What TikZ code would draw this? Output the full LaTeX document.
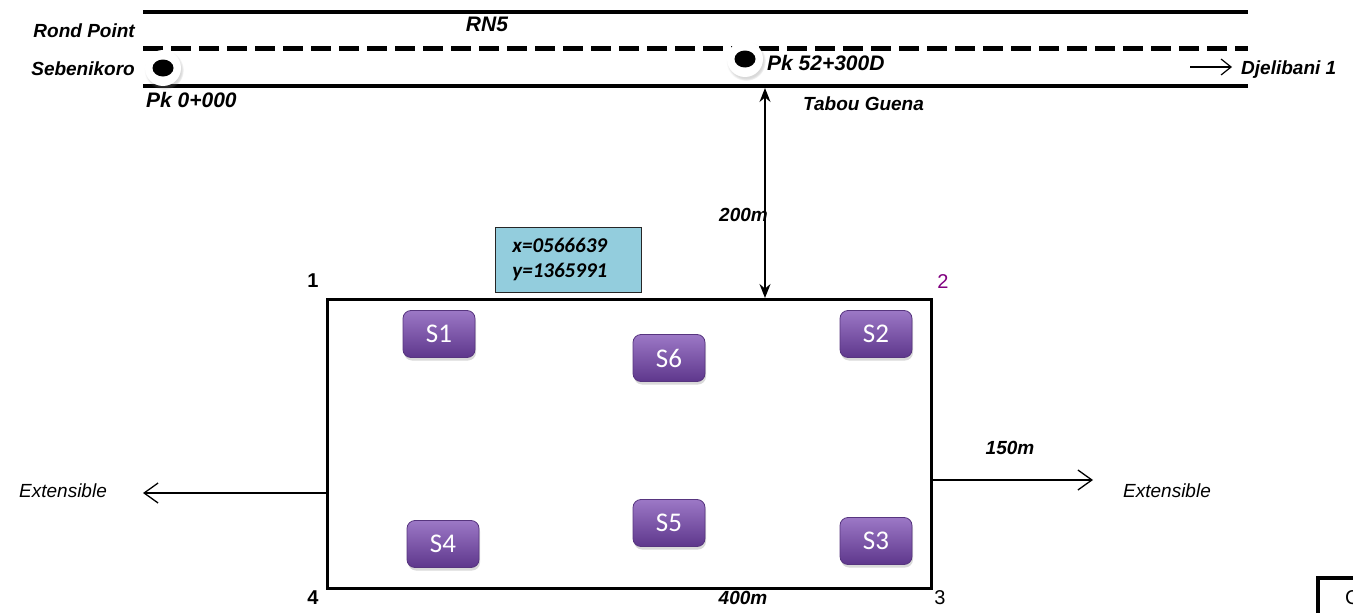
\documentclass[tikz,border=0pt]{standalone}
\usepackage{fontspec}
\setmainfont{Liberation Sans}
\newfontfamily\calibri{Carlito}
\usetikzlibrary{arrows.meta,shadows,shapes.geometric}
\definecolor{sensortop}{HTML}{9C78C6}
\definecolor{sensormid}{HTML}{7D55AC}
\definecolor{sensorbot}{HTML}{5E378C}
\definecolor{sensorline}{HTML}{57357F}
\definecolor{coordblue}{HTML}{93CDDD}
\definecolor{cornerpurple}{HTML}{80007F}
\begin{document}
\begin{tikzpicture}[x=1pt,y=-1pt,
  lbl/.style={font=\fontsize{19}{22}\selectfont\bfseries\itshape, inner sep=0pt},
  pklbl/.style={font=\fontsize{21}{24}\selectfont\bfseries\itshape, inner sep=0pt},
  ext/.style={font=\fontsize{19}{22}\selectfont\itshape, inner sep=0pt},
  corner/.style={font=\fontsize{20}{22}\selectfont, inner sep=0pt},
  road/.style={line width=4pt},
  halo/.style={circle, fill=white, minimum size=36pt, inner sep=0pt,
    circular drop shadow={shadow xshift=1pt, shadow yshift=-2pt, opacity=0.3}},
  dot/.style={ellipse, fill=black, minimum width=21pt, minimum height=17pt, inner sep=0pt},
  sensor/.style={rounded corners=8pt, minimum width=72pt, minimum height=47pt,
    draw=sensorline, line width=0.8pt, top color=sensortop, middle color=sensormid,
    bottom color=sensorbot,
    text=white, font=\calibri\fontsize{27}{30}\selectfont,
    drop shadow={shadow xshift=1pt, shadow yshift=-3pt, opacity=0.3}},
  thinarrow/.style={line width=1.3pt, -{Straight Barb[length=14pt,width=20pt,line width=1.3pt]}},
  dim/.style={line width=1.3pt, {Stealth[length=14pt,width=11pt]}-{Stealth[length=14pt,width=11pt]}}
]
\useasboundingbox (0,0) rectangle (1353,613);

% road RN5
\coordinate (edgeTopL) at (143,12);   \coordinate (edgeTopR) at (1248,12);
\coordinate (axisL)    at (143,48);   \coordinate (axisR)    at (1248,48);
\coordinate (edgeBotL) at (143,86);   \coordinate (edgeBotR) at (1248,86);
\draw[road] (edgeTopL) -- (edgeTopR);
\draw[line width=5pt, dash pattern=on 20pt off 8pt] (axisL) -- (axisR);
\draw[road] (edgeBotL) -- (edgeBotR);

% kilometre stakes
\node[halo] (stakeA) at (163,68) {};
\node[dot] at (stakeA) {};
\node[halo] (stakeB) at (745,59) {};
\node[dot] at (stakeB) {};

% road labels
\node[lbl, anchor=east] (rond) at (135,31) {Rond Point};
\node[lbl, anchor=east] (sebe) at (135,69) {Sebenikoro};
\node[pklbl, anchor=west] (pkA) at (146,100) {Pk 0+000};
\node[pklbl] (rn) at (487,24) {RN5};
\node[pklbl, anchor=west] (pkB) at (767,63) {Pk 52+300D};
\node[lbl, anchor=west] (tabou) at (803,104) {Tabou Guena};
\node[lbl, anchor=west] (djel) at (1241,70) {Djelibani 1};
\coordinate (djFrom) at (1190,67);
\coordinate (djTo) at (1232,67);
\draw[line width=1.2pt, -{Straight Barb[length=10pt,width=16pt,line width=1.2pt]}] (djFrom) -- (djTo);

% site boundary
\node[draw, line width=3pt, minimum width=604pt, minimum height=289pt,
  inner sep=0pt, anchor=north west] (site) at (326,298) {};

% distance to the road
\coordinate (dimTop) at (765,88);
\draw[dim] (dimTop) -- (dimTop |- site.north);
\node[lbl, anchor=east] (d200) at (768,215) {200m};

% coordinates box
\node[draw=black!85, line width=0.9pt, fill=coordblue, anchor=north west,
  text width=112pt, inner xsep=17pt, minimum height=65pt, align=left,
  font=\calibri\bfseries\itshape\fontsize{21}{25}\selectfont] (coords) at (495,227)
  {x=0566639\\y=1365991};

% corner numbers
\node[corner, font=\fontsize{20}{22}\selectfont\bfseries] (n1) at (313,281) {1};
\node[corner, text=cornerpurple] (n2) at (943,282) {2};
\node[corner] (n3) at (940,598) {3};
\node[corner, font=\fontsize{20}{22}\selectfont\bfseries] (n4) at (313,598) {4};

% sensors
\node[sensor] (s1) at (439,334) {S1};
\node[sensor] (s6) at (669,358) {S6};
\node[sensor] (s2) at (876,334) {S2};
\node[sensor] (s4) at (443,544) {S4};
\node[sensor] (s5) at (669,523) {S5};
\node[sensor] (s3) at (876,541) {S3};

% extension directions
\node[ext] (extL) at (63,491) {Extensible};
\node[ext] (extR) at (1167,491) {Extensible};
\coordinate (tipL) at (143,493);
\coordinate (tipR) at (1093,480);
\draw[thinarrow] (site.west |- tipL) -- (tipL);
\draw[thinarrow] (site.east |- tipR) -- (tipR);
\node[lbl] (d150) at (1010,448) {150m};
\node[lbl] (d400) at (743,598) {400m};

% frame at the lower right edge
\draw[line width=3.5pt] (1400,578) -| (1318,640);
\node[corner, anchor=west] (frameText) at (1345,598) {C};
\end{tikzpicture}
\end{document}
